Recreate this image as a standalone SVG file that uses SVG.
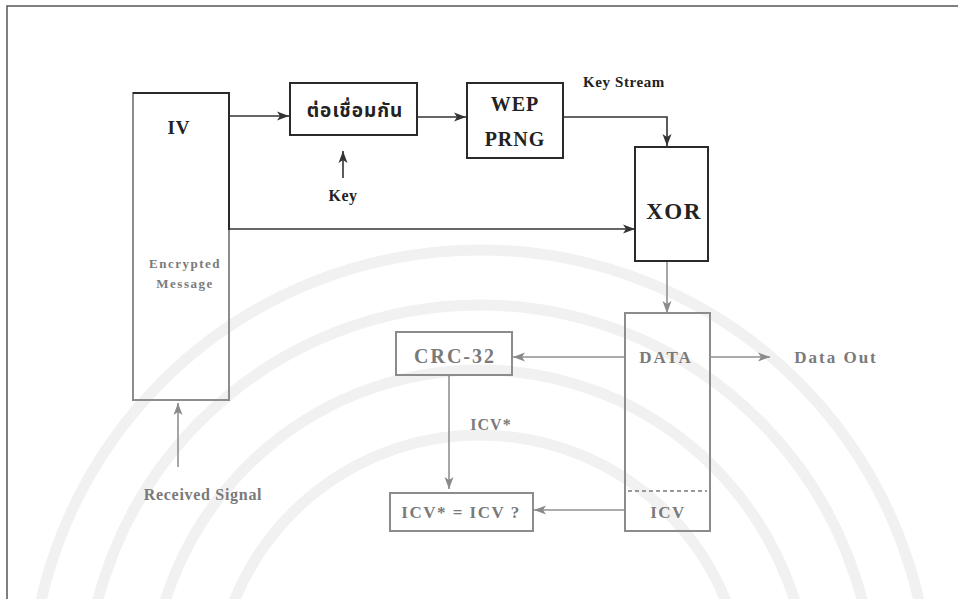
<svg xmlns="http://www.w3.org/2000/svg" width="960" height="599" viewBox="0 0 960 599">
<defs>
<marker id="ab" viewBox="0 0 12 10" refX="12" refY="5" markerWidth="12" markerHeight="10" markerUnits="userSpaceOnUse" orient="auto"><path d="M0,0.5 L12,5 L0,9.5 L3,5 Z" fill="#333"/></marker>
<marker id="ag" viewBox="0 0 12 10" refX="12" refY="5" markerWidth="12" markerHeight="10" markerUnits="userSpaceOnUse" orient="auto"><path d="M0,0.5 L12,5 L0,9.5 L3,5 Z" fill="#8a8a8a"/></marker>
</defs>
<style>
.bk{fill:none;stroke:#2a2a2a;stroke-width:2}
.gy{fill:none;stroke:#8c8c8c;stroke-width:2}
.cb{fill:none;stroke:#333;stroke-width:1.6}
.cg{fill:none;stroke:#909090;stroke-width:1.6}
.wm{fill:none;stroke:#f1f1f1;stroke-width:11}
.tb{font-family:"Liberation Serif",serif;font-weight:bold;fill:#222;text-anchor:middle}
.tg{font-family:"Liberation Serif",serif;font-weight:bold;fill:#7a7a7a;text-anchor:middle}
.th{font-family:"Liberation Serif","Noto Sans Thai","DejaVu Sans",sans-serif;font-weight:bold;fill:#222;text-anchor:middle}
</style>
<rect width="960" height="599" fill="#ffffff"/>
<g id="watermark">
<circle class="wm" cx="480" cy="700" r="450"/>
<circle class="wm" cx="480" cy="700" r="395"/>
<circle class="wm" cx="480" cy="700" r="330"/>
<circle class="wm" cx="480" cy="700" r="265"/>
</g>
<g id="frame">
<path d="M7,599 V6 H958" fill="none" stroke="#555" stroke-width="1.5"/>
</g>
<g id="connectors">
<path class="cb" d="M229,116 H289" marker-end="url(#ab)"/>
<path class="cb" d="M417,117 H466" marker-end="url(#ab)"/>
<path class="cb" d="M343,178 V151" marker-end="url(#ab)"/>
<path class="cb" d="M563,117 H667 V146" marker-end="url(#ab)"/>
<path class="cb" d="M229,229 H635" marker-end="url(#ab)"/>
<path class="cg" d="M667,261 V313" marker-end="url(#ag)"/>
<path class="cg" d="M625,357 H513" marker-end="url(#ag)"/>
<path class="cg" d="M710,357 H770" marker-end="url(#ag)"/>
<path class="cg" d="M449,375 V489" marker-end="url(#ag)"/>
<path class="cg" d="M625,510 H534" marker-end="url(#ag)"/>
<path class="cg" d="M178,467 V403" marker-end="url(#ag)"/>
</g>
<g id="iv">
<rect x="133" y="93" width="96" height="307" class="gy"/>
<path class="bk" d="M133,93 H229 V230"/>
<text class="tb" x="179" y="134" font-size="19" letter-spacing="1">IV</text>
<text class="tg" x="185" y="268" font-size="13" letter-spacing="1.5">Encrypted</text>
<text class="tg" x="185" y="288" font-size="13" letter-spacing="1.5">Message</text>
</g>
<g id="concat">
<rect x="290" y="83" width="127" height="52" class="bk"/>
<text class="th" x="355" y="117" font-size="19" letter-spacing="1">ต่อเชื่อมกัน</text>
</g>
<g id="key"><text class="tb" x="343" y="201" font-size="16" letter-spacing="0.5">Key</text></g>
<g id="wep">
<rect x="467" y="83" width="96" height="75" class="bk"/>
<text class="tb" x="515" y="111" font-size="20" letter-spacing="1">WEP</text>
<text class="tb" x="515" y="146" font-size="20" letter-spacing="1">PRNG</text>
</g>
<g id="keystream"><text class="tb" x="624" y="87" font-size="15" letter-spacing="0.6">Key Stream</text></g>
<g id="xor">
<rect x="635" y="147" width="73" height="114" class="bk"/>
<text class="tb" x="674" y="219" font-size="23" letter-spacing="1.5">XOR</text>
</g>
<g id="data">
<rect x="625" y="313" width="85" height="218" class="gy"/>
<path d="M628,491 H707" stroke="#7a7a7a" stroke-width="1.6" stroke-dasharray="4 3" fill="none"/>
<text class="tg" x="666" y="363" font-size="17" letter-spacing="2">DATA</text>
<text class="tg" x="668" y="518" font-size="17" letter-spacing="1.5">ICV</text>
</g>
<g id="dataout"><text class="tg" x="836" y="363" font-size="17" letter-spacing="2">Data Out</text></g>
<g id="crc">
<rect x="396" y="332" width="116" height="43" class="gy"/>
<text class="tg" x="455" y="363" font-size="20" letter-spacing="2">CRC-32</text>
</g>
<g id="icvstar"><text class="tg" x="491" y="430" font-size="16" letter-spacing="1">ICV*</text></g>
<g id="compare">
<rect x="390" y="493" width="143" height="38" class="gy"/>
<text class="tg" x="461" y="518" font-size="17" letter-spacing="1.5">ICV* = ICV ?</text>
</g>
<g id="received"><text class="tg" x="203" y="500" font-size="16" letter-spacing="0.7">Received Signal</text></g>
</svg>
